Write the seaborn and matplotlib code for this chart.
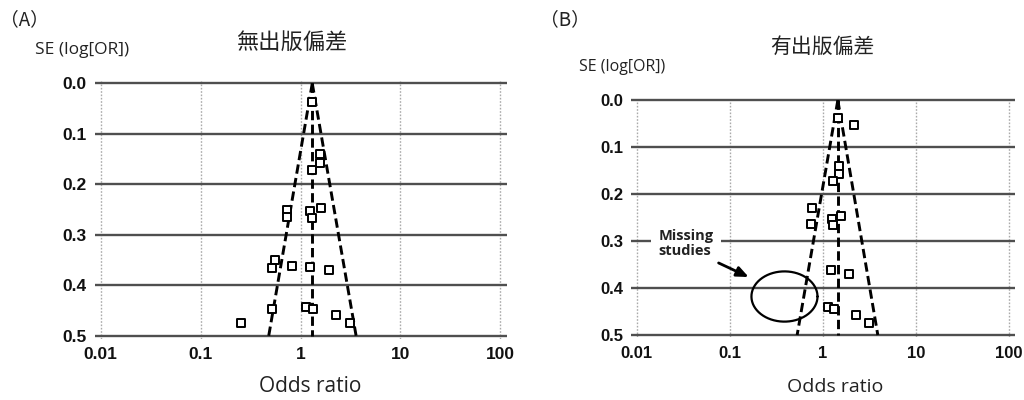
import numpy as np
import pandas as pd
import seaborn as sns
import matplotlib.pyplot as plt

# funnel plots: without / with publication bias

# panel A - no publication bias
a_or = [1.31, 1.55, 1.55, 1.31, 0.74, 0.74, 1.25, 1.31, 1.62, 0.55,
        0.52, 0.83, 1.23, 1.93, 0.52, 1.14, 1.33, 2.27, 3.10, 0.254]
a_se = [0.037, 0.140, 0.157, 0.172, 0.250, 0.265, 0.252, 0.267, 0.246, 0.349,
        0.365, 0.362, 0.363, 0.370, 0.447, 0.442, 0.447, 0.459, 0.475, 0.475]

# panel B - with publication bias
b_or = [1.45, 2.19, 1.51, 1.51, 1.28, 0.76, 0.75, 1.25, 1.30, 1.57,
        1.23, 1.90, 1.15, 1.31, 2.25, 3.10]
b_se = [0.038, 0.053, 0.141, 0.157, 0.172, 0.229, 0.264, 0.253, 0.266, 0.246,
        0.361, 0.370, 0.441, 0.445, 0.458, 0.475]

# funnel: apex OR, lower / upper OR at SE = 0.5
a_funnel = [1.31, 0.48, 3.6]
b_funnel = [1.45, 0.53, 3.9]

x_ticks = [0.01, 0.1, 1, 10, 100]
x_labels = ["0.01", "0.1", "1", "10", "100"]
y_ticks = [0.0, 0.1, 0.2, 0.3, 0.4, 0.5]
y_labels = ["0.0", "0.1", "0.2", "0.3", "0.4", "0.5"]

sns.set_style("white")
plt.rcParams['font.family'] = ['Liberation Sans', 'DejaVu Sans']

fig = plt.figure(figsize=(10.24, 4), dpi=100)
axA = fig.add_axes([0.0928, 0.15375, 0.4019, 0.644])
axB = fig.add_axes([0.6166, 0.15663, 0.3743, 0.5985])

dash = (0, (3.2, 1.5))


def draw_panel(ax, ors, ses, funnel, fs):
    df = pd.DataFrame({"OR": ors, "SE": ses})
    ax.set_xscale("log")
    ax.set_xlim(10 ** -2.057, 10 ** 2.062)
    ax.set_ylim(0.505, -0.005)
    for y in y_ticks:
        ax.axhline(y, color="#4f4f4f", lw=1.7, zorder=1)
    for x in x_ticks:
        ax.axvline(x, color="#aaaaaa", lw=1.0, ls=(0, (1.2, 1.2)), zorder=0.5)
    apex, lo, hi = funnel
    ax.plot([apex, lo], [0, 0.5], color="black", lw=2.1, ls=dash, zorder=2)
    ax.plot([apex, hi], [0, 0.5], color="black", lw=2.1, ls=dash, zorder=2)
    ax.plot([apex, apex], [0, 0.5], color="black", lw=2.1, ls=dash, zorder=2)
    sns.scatterplot(data=df, x="OR", y="SE", ax=ax, marker="s", s=30,
                    facecolor="white", edgecolor="black", linewidth=1.4, zorder=3)
    ax.set_xticks(x_ticks)
    ax.set_xticklabels(x_labels, fontweight="bold", fontsize=fs)
    ax.set_yticks(y_ticks)
    ax.set_yticklabels(y_labels, fontweight="bold", fontsize=fs)
    ax.minorticks_off()
    ax.tick_params(length=0, pad=6, labelcolor="#111111")
    ax.set_xlabel("")
    ax.set_ylabel("")
    for s in ax.spines.values():
        s.set_visible(False)


draw_panel(axA, a_or, a_se, a_funnel, 12.5)
draw_panel(axB, b_or, b_se, b_funnel, 12)

# missing studies annotation in B
t = np.linspace(0, 2 * np.pi, 200)
ell_x = 10 ** (-0.412 + 0.355 * np.cos(t))
ell_y = 0.418 + 0.0535 * np.sin(t)
axB.plot(ell_x, ell_y, color="black", lw=1.6, zorder=4)
axB.text(0.0172, 0.305, "Missing\nstudies", ha="left", va="center",
         fontsize=10.5, fontweight="bold", family=["Open Sans", "DejaVu Sans"],
         linespacing=1.1, color="#222222",
         bbox=dict(boxstyle="square,pad=0.5", fc="white", ec="none"), zorder=4)
axB.annotate("", xy=(0.17, 0.379), xytext=(0.0713, 0.344),
             arrowprops=dict(arrowstyle="-|>,head_length=0.7,head_width=0.3",
                             color="black", lw=2.0), zorder=4)

cjk = ["Noto Sans CJK TC", "DejaVu Sans"]
lab = ["Open Sans", "DejaVu Sans"]
fig.text(0.285, 0.895, "無出版偏差", ha="center", va="center", fontsize=16,
         family=cjk, fontweight="medium", color="#222222")
fig.text(0.803, 0.882, "有出版偏差", ha="center", va="center", fontsize=15,
         family=cjk, fontweight="medium", color="#222222")
fig.text(0.0, 0.95, "（A）", ha="left", va="center", fontsize=13.5, family=cjk,
         color="#222222")
fig.text(0.527, 0.95, "（B）", ha="left", va="center", fontsize=13.5, family=cjk,
         color="#222222")
fig.text(0.034, 0.875, "SE (log[OR])", ha="left", va="center", fontsize=12.5,
         family=lab, color="#222222")
fig.text(0.565, 0.833, "SE (log[OR])", ha="left", va="center", fontsize=11.5,
         family=lab, color="#222222")
fig.text(0.303, 0.033, "Odds ratio", ha="center", va="center", fontsize=15,
         family=lab, color="#222222")
fig.text(0.816, 0.033, "Odds ratio", ha="center", va="center", fontsize=14,
         family=lab, color="#222222")

fig.savefig("out.png", dpi=100, facecolor="white")
